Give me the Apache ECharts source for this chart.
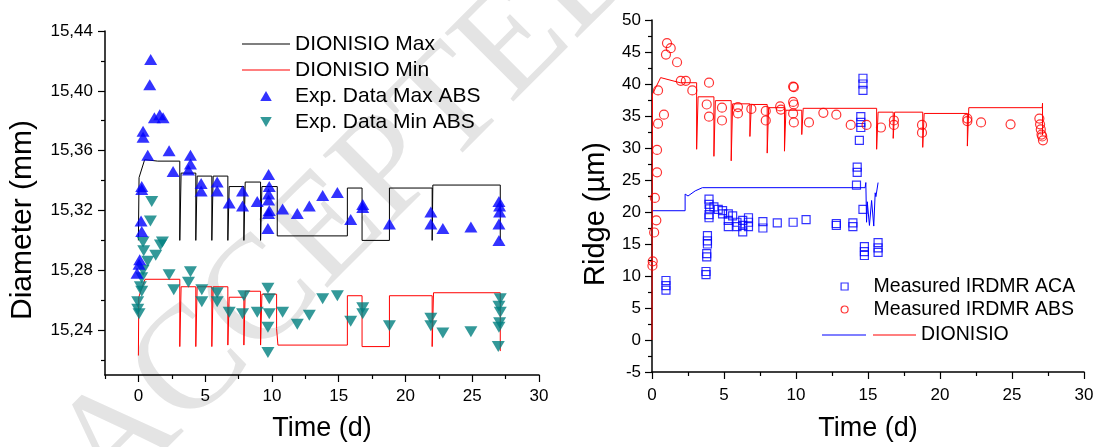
<!DOCTYPE html>
<html><head><meta charset="utf-8">
<script src="https://cdn.jsdelivr.net/npm/echarts@6/dist/echarts.min.js"></script>
<style>html,body{margin:0;padding:0;background:#fff}#c{width:1099px;height:447px}</style>
</head><body><div id="c"></div>
<script>
// ---- tick positions ----
const leftXMajor=[0,5,10,15,20,25,30];
const leftXMinor=[-2.5,2.5,7.5,12.5,17.5,22.5,27.5];
const leftYMajor=[15.24,15.28,15.32,15.36,15.40,15.44];
const leftYMinor=[15.22,15.26,15.30,15.34,15.38,15.42];
const rightXMajor=[0,5,10,15,20,25,30];
const rightXMinor=[2.5,7.5,12.5,17.5,22.5,27.5];
const rightYMajor=[-5,0,5,10,15,20,25,30,35,40,45,50];
const rightYMinor=[-2.5,2.5,7.5,12.5,17.5,22.5,27.5,32.5,37.5,42.5,47.5];

// ---- left panel data: [time (d), diameter (mm)] ----
const dionisioMax=[[0,15.300],[0.05,15.342],[0.47,15.354],[1.45,15.353],[3.1,15.353],[3.1,15.300],[3.2,15.345],[4.3,15.345],[4.3,15.300],[4.4,15.343],[5.5,15.343],[5.5,15.300],[5.6,15.343],[6.7,15.343],[6.7,15.300],[6.8,15.336],[7.9,15.336],[7.9,15.300],[8.0,15.339],[9.15,15.339],[9.15,15.300],[9.25,15.336],[10.4,15.336],[10.4,15.303],[15.65,15.303],[15.65,15.335],[16.75,15.335],[16.75,15.300],[18.8,15.300],[18.8,15.335],[22.0,15.335],[22.0,15.300],[22.05,15.337],[27.1,15.337],[27.1,15.300]];
const dionisioMin=[[0,15.223],[0.03,15.262],[0.25,15.268],[0.5,15.274],[3.1,15.274],[3.1,15.229],[3.2,15.269],[4.3,15.269],[4.3,15.229],[4.4,15.269],[5.5,15.269],[5.5,15.229],[5.6,15.269],[6.7,15.269],[6.7,15.230],[6.8,15.262],[7.9,15.262],[7.9,15.230],[8.0,15.266],[9.15,15.266],[9.15,15.230],[9.25,15.264],[10.35,15.264],[10.35,15.241],[10.45,15.241],[10.45,15.230],[15.65,15.230],[15.65,15.263],[16.75,15.263],[16.75,15.229],[18.8,15.229],[18.8,15.263],[22.0,15.263],[22.0,15.229],[22.1,15.265],[27.1,15.265],[27.1,15.226]];
const expMaxAbs=[[0.92,15.421],[0.85,15.404],[1.2,15.382],[1.6,15.384],[1.85,15.382],[0.35,15.373],[0.35,15.369],[0.7,15.357],[2.3,15.360],[2.6,15.346],[3.9,15.357],[3.9,15.351],[3.75,15.347],[0.25,15.336],[0.25,15.334],[4.7,15.338],[4.7,15.333],[5.9,15.339],[5.9,15.333],[6.8,15.325],[7.8,15.333],[7.8,15.323],[8.9,15.326],[9.75,15.344],[9.8,15.336],[9.75,15.331],[9.75,15.327],[9.8,15.320],[9.75,15.318],[9.7,15.308],[10.8,15.321],[11.9,15.318],[12.8,15.323],[13.8,15.330],[14.9,15.332],[15.9,15.314],[16.8,15.324],[16.8,15.322],[18.8,15.311],[21.9,15.319],[21.9,15.311],[22.8,15.308],[24.9,15.309],[27.0,15.326],[27.05,15.323],[27.05,15.319],[27.0,15.311],[27.0,15.300],[0.2,15.313],[0.25,15.306],[0.1,15.287],[0.05,15.284],[-0.1,15.278]];
const expMinAbs=[[1.0,15.326],[0.9,15.313],[0.35,15.299],[0.4,15.293],[1.8,15.299],[1.65,15.297],[1.3,15.290],[0.7,15.286],[0.35,15.280],[0.25,15.275],[0.15,15.269],[0.25,15.266],[-0.05,15.259],[-0.05,15.254],[0.05,15.251],[2.3,15.277],[2.65,15.267],[3.9,15.279],[3.75,15.272],[4.75,15.267],[4.75,15.259],[5.9,15.265],[5.9,15.259],[6.8,15.252],[7.9,15.263],[7.8,15.251],[8.9,15.252],[9.7,15.268],[9.8,15.261],[9.8,15.251],[9.7,15.242],[9.7,15.225],[10.8,15.252],[11.9,15.244],[12.8,15.250],[13.8,15.261],[14.9,15.263],[15.9,15.246],[16.8,15.255],[16.8,15.251],[18.8,15.243],[21.9,15.248],[21.9,15.243],[22.8,15.238],[24.9,15.239],[27.1,15.261],[27.0,15.256],[27.1,15.252],[27.05,15.245],[27.0,15.242],[26.95,15.229]];

// ---- right panel data: [time (d), ridge (um)] ----
const dionisioAca=[[0,20.2],[2.3,20.2],[2.3,22.8],[2.5,22.5],[3.0,23.3],[3.5,23.8],[14.8,23.8],[14.85,24.6],[14.9,18.4],[14.95,21.6],[15.05,21.6],[15.1,17.9],[15.2,17.9],[15.25,21.8],[15.35,22.0],[15.4,17.8],[15.5,23.0],[15.55,22.4],[15.7,24.6]];
const dionisioAbs=[[0,0],[0.03,38.4],[0.6,41.0],[1.95,40.2],[3.1,40.2],[3.1,29.8],[3.2,38.0],[4.3,38.0],[4.3,28.7],[4.4,37.4],[5.5,37.4],[5.5,28.0],[5.6,36.9],[6.8,36.9],[6.8,31.8],[6.9,36.8],[8.0,36.8],[8.0,29.2],[8.1,36.3],[9.2,36.3],[9.2,29.5],[9.3,35.9],[10.4,35.9],[10.4,32.1],[10.5,36.2],[15.6,36.2],[15.6,29.8],[15.7,35.6],[16.75,35.6],[16.75,31.5],[16.85,35.6],[18.8,35.6],[18.8,30.1],[18.9,35.4],[21.9,35.4],[21.9,30.3],[22.0,36.3],[27.1,36.3],[27.12,37.0],[27.12,32.0]];
const measuredAca=[[0.97,9.3],[0.97,8.5],[0.97,7.8],[3.75,10.7],[3.75,10.2],[3.8,13.5],[3.8,13.0],[3.85,16.3],[3.85,15.5],[3.85,15.0],[3.96,19.6],[3.96,19.1],[3.96,22.0],[3.96,21.2],[4.0,20.5],[4.3,20.8],[4.6,20.4],[4.9,20.2],[4.9,19.7],[5.3,19.7],[5.3,18.7],[5.3,17.7],[5.6,19.4],[5.9,18.4],[5.9,17.7],[6.3,18.7],[6.3,17.9],[6.3,16.9],[6.7,19.1],[6.7,18.4],[6.7,17.7],[7.7,18.5],[7.7,17.5],[8.7,18.3],[9.8,18.4],[10.7,18.8],[12.8,18.2],[12.8,17.9],[13.95,18.3],[13.95,17.7],[14.65,40.9],[14.65,40.0],[14.65,39.0],[14.5,34.9],[14.5,34.0],[14.5,33.2],[14.4,31.2],[14.25,27.0],[14.25,26.2],[14.2,24.2],[14.65,20.4],[14.75,14.6],[14.75,13.8],[14.75,13.2],[15.7,15.2],[15.7,14.4],[15.7,13.7]];
const measuredAbs=[[1.04,46.4],[1.3,45.6],[0.97,44.6],[1.74,43.4],[2.0,40.5],[2.35,40.5],[2.8,39.0],[0.42,39.0],[3.96,40.2],[3.8,36.8],[3.96,34.9],[4.86,36.3],[4.86,34.3],[5.97,36.4],[5.97,35.4],[6.9,36.1],[7.9,35.8],[7.9,34.3],[8.9,36.5],[8.95,36.0],[9.8,39.6],[9.85,39.5],[9.8,37.2],[9.85,36.8],[9.8,35.4],[9.85,34.0],[10.9,34.0],[11.9,35.5],[12.8,35.2],[0.83,35.2],[0.42,33.8],[0.35,29.7],[0.35,26.2],[0.2,22.2],[0.3,18.7],[0.15,16.8],[0.05,12.3],[0.03,11.6],[13.8,33.6],[14.9,33.6],[15.9,33.2],[16.8,34.3],[16.8,33.6],[18.75,33.6],[18.75,32.4],[21.9,34.6],[21.9,34.2],[22.85,34.0],[24.9,33.7],[26.9,34.6],[26.95,33.7],[27.0,32.9],[27.05,32.1],[27.1,31.8],[27.15,31.2]];

const FONT='"Liberation Sans", Arial, Helvetica, sans-serif';
const commaFmt=v=>v.toFixed(2).replace('.',',');
const SYM_UP='path://M6,0L12,10.4L0,10.4Z';
const SYM_DOWN='path://M0,0L12,0L6,10.4Z';
const SYM_SQ='path://M0,0L10,0L10,10L0,10Z';
const SYM_CIRC='path://M5,0A5,5,0,1,1,5,10A5,5,0,1,1,5,0Z';
const lineIcon=w=>'path://M0,0L'+w+',0L'+w+',1.1L0,1.1Z';

function majorAxis(o){
  return {
    type:'value', gridIndex:o.grid, min:o.min, max:o.max, position:o.pos, scale:true,
    splitLine:{show:false},
    axisLine:{show:true,onZero:false,lineStyle:{color:'#000',width:1.5}},
    axisTick:{show:true,inside:false,length:7,lineStyle:{color:'#000',width:1.2},customValues:o.major},
    axisLabel:{show:true,customValues:o.major,color:'#000',fontSize:17,fontFamily:FONT,margin:o.margin,formatter:o.fmt||(v=>String(v))},
    name:o.name,nameLocation:'middle',nameGap:o.nameGap,
    nameTextStyle:{fontSize:o.nameSize,fontFamily:FONT,color:'#000',padding:o.namePad||0}
  };
}
function minorAxis(o){
  return {
    type:'value', gridIndex:o.grid, min:o.min, max:o.max, position:o.pos, scale:true,
    splitLine:{show:false},
    axisLine:{show:false,onZero:false},
    axisTick:{show:true,inside:false,length:4,lineStyle:{color:'#000',width:1.2},customValues:o.minor},
    axisLabel:{show:false}
  };
}

const chart=echarts.init(document.getElementById('c'),null,{renderer:'canvas'});
chart.setOption({
  animation:false,
  backgroundColor:'#fff',
  textStyle:{fontFamily:FONT},
  graphic:[{type:'text',x:352,y:208,rotation:Math.PI/4,silent:true,z:-10,
    style:{text:'ACCEPTED',font:'148px "Liberation Serif", "Times New Roman", serif',fill:'#e4e4e4',align:'center',verticalAlign:'middle'}}],
  grid:[
    {left:105,top:31,width:434,height:346},
    {left:652,top:20,width:432,height:354}
  ],
  xAxis:[
    majorAxis({grid:0,min:-2.5,max:30,pos:'bottom',major:leftXMajor,margin:13,name:'Time (d)',nameGap:40,nameSize:27}),
    minorAxis({grid:0,min:-2.5,max:30,pos:'bottom',minor:leftXMinor}),
    majorAxis({grid:1,min:0,max:30,pos:'bottom',major:rightXMajor,margin:15,name:'Time (d)',nameGap:43,nameSize:27}),
    minorAxis({grid:1,min:0,max:30,pos:'bottom',minor:rightXMinor})
  ],
  yAxis:[
    majorAxis({grid:0,min:15.21,max:15.44,pos:'left',major:leftYMajor,margin:12,fmt:commaFmt,name:'Diameter (mm)',nameGap:67,nameSize:30,namePad:[0,34,0,0]}),
    minorAxis({grid:0,min:15.21,max:15.44,pos:'left',minor:leftYMinor}),
    majorAxis({grid:1,min:-5,max:50,pos:'left',major:rightYMajor,margin:11,name:'Ridge (\u00b5m)',nameGap:42,nameSize:29,namePad:[0,36,0,0]}),
    minorAxis({grid:1,min:-5,max:50,pos:'left',minor:rightYMinor})
  ],
  legend:[
    {orient:'vertical',left:242,top:31,padding:0,itemWidth:48,itemHeight:10,itemGap:0,selectedMode:false,
     textStyle:{fontSize:21,lineHeight:26,color:'#000',fontFamily:FONT,width:200,overflow:'none'},
     data:[{name:'DIONISIO Max',icon:lineIcon(48)},{name:'DIONISIO Min',icon:lineIcon(48)},'Exp. Data Max ABS','Exp. Data Min ABS']},
    {orient:'vertical',left:840.5,top:275,padding:0,itemWidth:48,itemHeight:7,itemGap:0,selectedMode:false,
     itemStyle:{borderWidth:1.2},
     textStyle:{fontSize:19.5,lineHeight:23,color:'#000',fontFamily:FONT,width:205,overflow:'none'},
     data:['Measured IRDMR ACA','Measured IRDMR ABS']},
    {orient:'vertical',left:822,top:334.5,padding:0,itemWidth:44,itemHeight:14,itemGap:0,selectedMode:false,
     formatter:()=>'',textStyle:{fontSize:19,lineHeight:14},
     data:[{name:'DIONISIO ACA',icon:lineIcon(44)}]},
    {orient:'vertical',left:873,top:322,padding:0,itemWidth:43,itemHeight:14,itemGap:0,selectedMode:false,
     textStyle:{fontSize:19.5,lineHeight:26,color:'#000',fontFamily:FONT,width:100,overflow:'none'},
     data:[{name:'DIONISIO',icon:lineIcon(43)}]}
  ],
  series:[
    {name:'DIONISIO Max',type:'line',xAxisIndex:0,yAxisIndex:0,data:dionisioMax,symbol:'none',color:'#000',lineStyle:{color:'#000',width:1},z:3},
    {name:'DIONISIO Min',type:'line',xAxisIndex:0,yAxisIndex:0,data:dionisioMin,symbol:'none',color:'#ff0000',lineStyle:{color:'#ff0000',width:1},z:3},
    {name:'Exp. Data Max ABS',type:'scatter',xAxisIndex:0,yAxisIndex:0,data:expMaxAbs,symbol:SYM_UP,symbolSize:[13,11],color:'#0000ff',itemStyle:{color:'#0000ff'},z:5},
    {name:'Exp. Data Min ABS',type:'scatter',xAxisIndex:0,yAxisIndex:0,data:expMinAbs,symbol:SYM_DOWN,symbolSize:[13,11],color:'#008080',itemStyle:{color:'#008080'},z:4},
    {name:'DIONISIO ACA',type:'line',xAxisIndex:2,yAxisIndex:2,data:dionisioAca,symbol:'none',color:'#0000ff',lineStyle:{color:'#0000ff',width:1},z:3},
    {name:'DIONISIO',type:'line',xAxisIndex:2,yAxisIndex:2,data:dionisioAbs,symbol:'none',color:'#ff0000',lineStyle:{color:'#ff0000',width:1},z:3},
    {name:'Measured IRDMR ACA',type:'scatter',xAxisIndex:2,yAxisIndex:2,data:measuredAca,symbol:SYM_SQ,symbolSize:8,color:'#0000ff',itemStyle:{color:'rgba(255,255,255,0)',borderColor:'#0000ff',borderWidth:1.2},z:4},
    {name:'Measured IRDMR ABS',type:'scatter',xAxisIndex:2,yAxisIndex:2,data:measuredAbs,symbol:SYM_CIRC,symbolSize:9,color:'#ff0000',itemStyle:{color:'rgba(255,255,255,0)',borderColor:'#ff0000',borderWidth:1.2},z:4}
  ]
});
</script></body></html>
